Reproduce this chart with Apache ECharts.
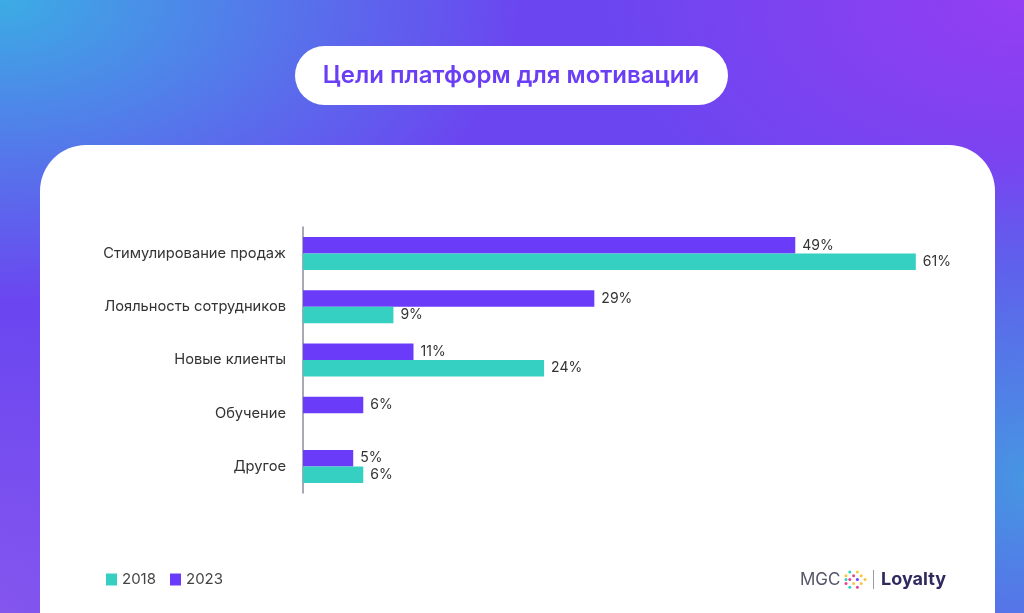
<!DOCTYPE html>
<html>
<head>
<meta charset="utf-8">
<script src="https://cdn.jsdelivr.net/npm/echarts@6/dist/echarts.min.js"></script>
<style>
  html, body { margin: 0; padding: 0; }
  #main {
    width: 1024px; height: 613px;
    background:
      radial-gradient(ellipse 520px 300px at 0% 0%, rgba(60,172,228,1) 0%, rgba(60,172,228,0) 100%),
      radial-gradient(ellipse 260px 320px at 100% 78%, rgba(70,150,226,1) 0%, rgba(70,150,226,0) 100%),
      radial-gradient(ellipse 420px 260px at 100% 0%, rgba(148,62,242,1) 0%, rgba(148,62,242,0) 100%),
      radial-gradient(ellipse 300px 300px at 0% 100%, rgba(132,86,238,1) 0%, rgba(132,86,238,0) 100%),
      #6b46f0;
  }
</style>
</head>
<body>
<div id="main"></div>
<script>
// данные
var categories = ['Стимулирование продаж', 'Лояльность сотрудников', 'Новые клиенты', 'Обучение', 'Другое'];
var values2023 = [49, 29, 11, 6, 5];
var values2018 = [61, 9, 24, null, 6];

var purple = '#6a3cf9';
var teal = '#36d0c3';

var myChart = echarts.init(document.getElementById('main'));

// точки логотипа (стрелки)
var dots = [
  [0, 1, '#f5c842'], [0, 2, '#36d0c3'], [0, 3, '#e8458c'],
  [1, 0, '#36d0c3'], [1, 2, '#e8458c'], [1, 4, '#36d0c3'],
  [2, 1, '#e8458c'], [2, 3, '#f5c842'],
  [3, 0, '#f5c842'], [3, 2, '#6a3cf9'], [3, 4, '#e8458c'],
  [4, 1, '#f5c842'], [4, 3, '#f5c842'],
  [5, 2, '#f5c842']
];
var dotGraphics = dots.map(function (d) {
  return {
    type: 'circle',
    shape: { cx: 846 + d[0] * 3.8, cy: 572 + d[1] * 3.8, r: 1.5 },
    style: { fill: d[2] }
  };
});

var option = {
  animation: false,
  graphic: [
    // заголовок
    {
      type: 'rect',
      shape: { x: 295, y: 46, width: 433, height: 59, r: 29.5 },
      style: { fill: '#fff' }
    },
    {
      type: 'text',
      x: 511, y: 76,
      style: {
        text: 'Цели платформ для мотивации',
        fill: '#6a3ef5',
        font: '600 24px Inter',
        textAlign: 'center',
        textVerticalAlign: 'middle'
      }
    },
    // белая карточка
    {
      type: 'rect',
      shape: { x: 40, y: 145, width: 955, height: 520, r: 46 },
      style: { fill: '#fff' }
    },
    // логотип
    {
      type: 'text',
      x: 800, y: 580,
      style: { text: 'MGC', fill: '#55556b', font: '400 17px Inter', textVerticalAlign: 'middle' }
    },
    {
      type: 'rect',
      shape: { x: 873, y: 570, width: 1, height: 19 },
      style: { fill: '#9a9aa8' }
    },
    {
      type: 'text',
      x: 881, y: 580,
      style: { text: 'Loyalty', fill: '#2e2a5e', font: '700 18px Inter', textVerticalAlign: 'middle' }
    }
  ].concat(dotGraphics),
  legend: {
    left: 101,
    top: 567,
    itemWidth: 11,
    itemHeight: 12,
    itemGap: 14,
    icon: 'rect',
    data: ['2018', '2023'],
    textStyle: { color: '#444', fontSize: 15, fontFamily: 'Inter' }
  },
  grid: { left: 303, right: 68, top: 227, bottom: 120 },
  xAxis: {
    type: 'value',
    min: 0,
    max: 65,
    show: false
  },
  yAxis: {
    type: 'category',
    inverse: true,
    data: categories,
    axisLine: { show: true, lineStyle: { color: '#8c8c9c', width: 1.5 } },
    axisTick: { show: false },
    axisLabel: { color: '#333', fontSize: 14.7, fontFamily: 'Inter', margin: 17 }
  },
  series: [
    {
      name: '2023',
      type: 'bar',
      data: values2023,
      barWidth: 16.5,
      barGap: '0%',
      itemStyle: { color: purple },
      label: {
        show: true, position: 'right', distance: 7,
        formatter: '{c}%', color: '#333', fontSize: 14, fontFamily: 'Inter'
      }
    },
    {
      name: '2018',
      type: 'bar',
      data: values2018,
      barWidth: 16.5,
      barGap: '0%',
      itemStyle: { color: teal },
      label: {
        show: true, position: 'right', distance: 7,
        formatter: '{c}%', color: '#333', fontSize: 14, fontFamily: 'Inter'
      }
    }
  ]
};

myChart.setOption(option);
</script>
</body>
</html>
